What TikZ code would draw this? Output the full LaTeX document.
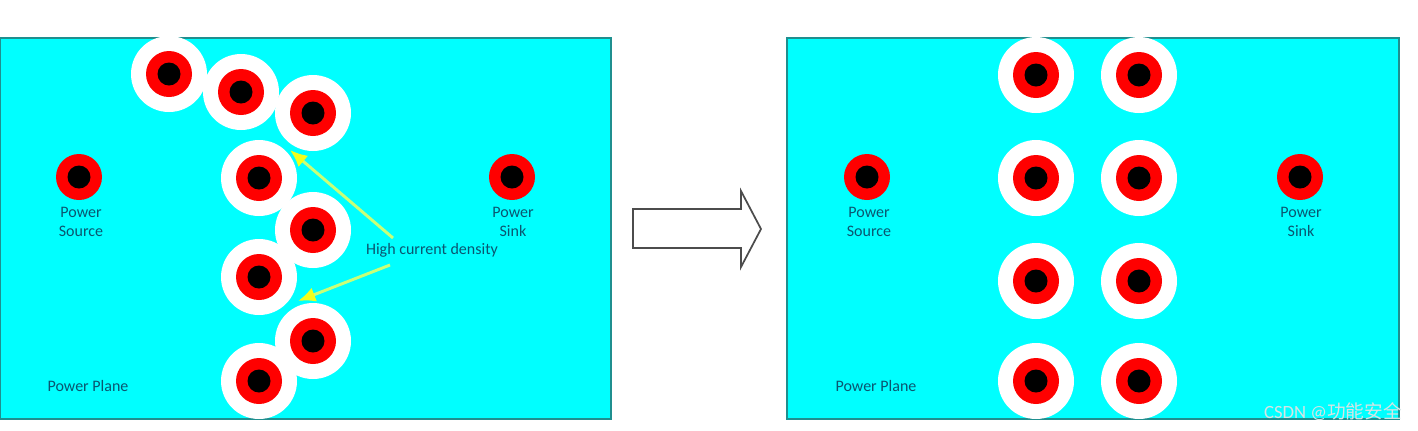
\documentclass[tikz,border=0pt]{standalone}
\usepackage{fontspec}
\setmainfont{Carlito}
\newfontfamily\cjkfont{Noto Sans CJK SC}
\usetikzlibrary{arrows.meta}
\definecolor{planecyan}{HTML}{00FFFF}
\definecolor{planeedge}{HTML}{1F8F8F}
\definecolor{labelblue}{HTML}{0B5570}
\definecolor{arrowline}{HTML}{C8FF78}
\definecolor{arrowhead}{HTML}{F2FF1A}
\definecolor{markgray}{HTML}{D6E4E4}

\tikzset{
    plane/.style={draw=planeedge, line width=1.5pt, fill=planecyan},
    antipad/.style={fill=white},
    viapad/.style={fill=red},
    viahole/.style={fill=black},
    planelabel/.style={
        text=labelblue,
        font=\fontsize{12}{14.25}\selectfont,
        align=center,
        inner sep=0pt
    },
    density/.style={
        -{Latex[length=13pt,width=11pt,fill=arrowhead,color=arrowhead]},
        arrowline,
        line width=2.2pt
    }
}

\begin{document}
\begin{tikzpicture}[x=0.75pt, y=-0.75pt]

\useasboundingbox (0,0) rectangle (1418,430);

% Plans
\draw[plane] (0,38) rectangle (611,419);
\draw[plane] (787,38) rectangle (1399,419);

% Vies amb antipad
\foreach \x/\y in {
    169/74, 241/92, 313/113, 259/178, 313/230, 259/277, 313/341, 259/381,
    1036/75, 1139/75, 1036/178, 1139/178, 1036/281, 1139/281, 1036/381, 1139/381
} {
    \fill[antipad] (\x,\y) circle[radius=38];
    \fill[viapad] (\x,\y) circle[radius=23];
    \fill[viahole] (\x,\y) circle[radius=11.5];
}

% Font i sortida
\foreach \x in {79, 512, 867, 1300} {
    \fill[viapad] (\x,177) circle[radius=23];
    \fill[viahole] (\x,177) circle[radius=11.5];
}

% Etiquetes esquerra
\node[planelabel] (sourceA) at (81,222) {Power\\Source};
\node[planelabel] (sinkA) at (513,222) {Power\\Sink};
\node[planelabel] (planeA) at (88,386) {Power Plane};
\node[planelabel] (highA) at (432,250) {High current density};

% Etiquetes dreta
\node[planelabel] (sourceB) at (869,222) {Power\\Source};
\node[planelabel] (sinkB) at (1301,222) {Power\\Sink};
\node[planelabel] (planeB) at (876,386) {Power Plane};

% Densitat
\coordinate (tipUp) at (290,150);
\coordinate (tipDown) at (298,301);
\coordinate (tailUp) at (393,238);
\coordinate (tailDown) at (390,265);

\draw[density] (tailUp) -- (tipUp);
\draw[density] (tailDown) -- (tipDown);

% Fletxa gran
\draw[
    line width=1.3pt,
    black!70,
    fill=white,
    line join=miter
] (633,209) -- (741,209) -- (741,191) -- (761,229)
    -- (741,267) -- (741,248) -- (633,248) -- cycle;

% Marca
\node[
    text=markgray,
    font=\fontsize{14}{16}\selectfont,
    anchor=east,
    inner sep=0pt
] (csdnMark) at (1402,412) {CSDN @{\cjkfont 功能安全}};

\end{tikzpicture}
\end{document}
